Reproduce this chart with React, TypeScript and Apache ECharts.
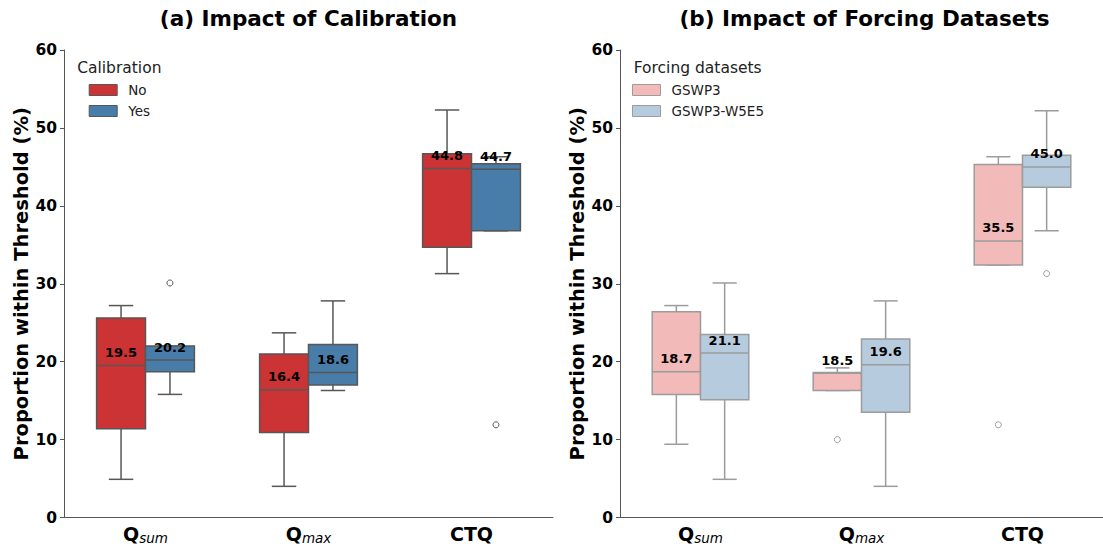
import React, { useEffect, useRef } from 'react';
import * as echarts from 'echarts';

const FONT = "'DejaVu Sans', 'Liberation Sans', sans-serif";

// categories (main letters + subscript)
const catMain = ['Q', 'Q', 'CTQ'];
const catSub = ['sum', 'max', ''];
const categories = ['Qsum', 'Qmax', 'CTQ'];

// y axis ticks
const yMin = 0;
const yMax = 60;
const yStep = 10;

// [whisker low, Q1, median, Q3, whisker high] per category
const calibNo = [
  [4.9, 11.4, 19.5, 25.6, 27.2],
  [4.0, 10.9, 16.4, 21.0, 23.7],
  [31.3, 34.7, 44.8, 46.7, 52.3],
];
const calibYes = [
  [15.8, 18.7, 20.2, 22.0, 22.0],
  [16.3, 17.0, 18.6, 22.2, 27.8],
  [36.8, 36.8, 44.7, 45.4, 46.3],
];
const calibNoOutliers: number[][] = [];
const calibYesOutliers = [
  [0, 30.1],
  [2, 11.9],
];

const gswp3 = [
  [9.4, 15.8, 18.7, 26.4, 27.2],
  [16.3, 16.3, 18.5, 18.6, 19.2],
  [32.4, 32.4, 35.5, 45.3, 46.3],
];
const w5e5 = [
  [4.9, 15.1, 21.1, 23.5, 30.1],
  [4.0, 13.5, 19.6, 22.9, 27.8],
  [36.8, 42.4, 45.0, 46.5, 52.2],
];
const gswp3Outliers = [
  [1, 10.0],
  [2, 11.9],
];
const w5e5Outliers = [[2, 31.3]];

const BOX_FRAC = 0.3;

function boxSeries(name: string, rows: number[][], fill: string, stroke: string, panel: number, side: number) {
  return {
    type: 'custom',
    name,
    xAxisIndex: panel,
    yAxisIndex: panel,
    itemStyle: { color: fill },
    data: rows.map((r, i) => [i, ...r]),
    encode: { x: 0, y: [1, 2, 3, 4, 5] },
    silent: true,
    z: 2,
    renderItem: (params: any, api: any) => {
      const ci = api.value(0);
      const band = api.size([1, 0])[0];
      const bw = band * BOX_FRAC;
      const cx = api.coord([ci, 0])[0] + (side * bw) / 2;
      const y = (k: number) => api.coord([ci, api.value(k)])[1];
      const yLow = y(1);
      const yQ1 = y(2);
      const yMed = y(3);
      const yQ3 = y(4);
      const yHigh = y(5);
      const cap = bw / 2;
      const ls = { stroke, lineWidth: 1.5, fill: 'none' };
      return {
        type: 'group',
        children: [
          { type: 'line', shape: { x1: cx, y1: yHigh, x2: cx, y2: yQ3 }, style: ls },
          { type: 'line', shape: { x1: cx, y1: yQ1, x2: cx, y2: yLow }, style: ls },
          { type: 'line', shape: { x1: cx - cap / 2, y1: yHigh, x2: cx + cap / 2, y2: yHigh }, style: ls },
          { type: 'line', shape: { x1: cx - cap / 2, y1: yLow, x2: cx + cap / 2, y2: yLow }, style: ls },
          {
            type: 'rect',
            shape: { x: cx - bw / 2, y: yQ3, width: bw, height: yQ1 - yQ3 },
            style: { fill, stroke, lineWidth: 1.5 },
          },
          { type: 'line', shape: { x1: cx - bw / 2, y1: yMed, x2: cx + bw / 2, y2: yMed }, style: ls },
          {
            type: 'text',
            x: cx,
            y: yMed - 13,
            z2: 10,
            style: {
              text: Number(api.value(3)).toFixed(1),
              fill: '#000',
              fontSize: 13,
              fontWeight: 'bold',
              fontFamily: FONT,
              align: 'center',
              verticalAlign: 'middle',
            },
          },
        ],
      };
    },
  };
}

function outlierSeries(name: string, pts: number[][], stroke: string, panel: number, side: number) {
  return {
    type: 'custom',
    name,
    xAxisIndex: panel,
    yAxisIndex: panel,
    data: pts,
    encode: { x: 0, y: 1 },
    silent: true,
    z: 3,
    renderItem: (params: any, api: any) => {
      const band = api.size([1, 0])[0];
      const bw = band * BOX_FRAC;
      const pt = api.coord([api.value(0), api.value(1)]);
      return {
        type: 'circle',
        shape: { cx: pt[0] + (side * bw) / 2, cy: pt[1], r: 3 },
        style: { fill: '#fff', stroke, lineWidth: 1 },
      };
    },
  };
}

const AXIS_COLOR = '#555';

function xAxis(idx: number) {
  return {
    type: 'category',
    gridIndex: idx,
    data: categories,
    axisLine: { lineStyle: { color: AXIS_COLOR, width: 1 } },
    axisTick: { alignWithLabel: true, length: 4, lineStyle: { color: AXIS_COLOR } },
    axisLabel: {
      margin: 5,
      formatter: (v: string, i: number) =>
        catSub[i] ? `{q|${catMain[i]}}{s|${catSub[i]}}` : `{q|${catMain[i]}}`,
      rich: {
        q: { fontSize: 19, fontWeight: 'bold', fontFamily: FONT, color: '#000', lineHeight: 22 },
        s: {
          fontSize: 13.5,
          fontStyle: 'italic',
          fontFamily: FONT,
          color: '#000',
          lineHeight: 14,
          padding: [9, 0, 0, 0],
        },
      },
    },
    splitLine: { show: false },
  };
}

function yAxis(idx: number) {
  return {
    type: 'value',
    gridIndex: idx,
    min: yMin,
    max: yMax,
    interval: yStep,
    name: 'Proportion within Threshold (%)',
    nameLocation: 'middle',
    nameGap: 31,
    nameTextStyle: { fontSize: 19.5, fontWeight: 'bold', fontFamily: FONT, color: '#000' },
    axisLine: { show: true, lineStyle: { color: AXIS_COLOR, width: 1 } },
    axisTick: { show: true, length: 4, lineStyle: { color: AXIS_COLOR } },
    axisLabel: { fontSize: 15.5, fontWeight: 'bold', fontFamily: FONT, color: '#000', margin: 7 },
    splitLine: { show: false },
  };
}

const RED = '#CB3335';
const BLUE = '#477DA8';
const DARK_LINE = '#575757';
const PINK = '#F2BAB8';
const LBLUE = '#B6CBDE';
const LIGHT_LINE = '#9c9c9c';

export default function App() {
  const ref = useRef<HTMLDivElement>(null);
  useEffect(() => {
    if (!ref.current) return;
    const chart = echarts.init(ref.current, undefined, { renderer: 'svg' });
    const legendText = { fontSize: 13.5, fontFamily: FONT, color: '#222', padding: [0, 0, 0, 6] };
    const titleStyle = { fontSize: 21.5, fontWeight: 'bold', fontFamily: FONT, fill: '#000' };
    chart.setOption({
      animation: false,
      backgroundColor: '#fff',
      grid: [
        { left: 64, top: 50, width: 489, height: 467.5 },
        { left: 620, top: 50, width: 489, height: 467.5 },
      ],
      xAxis: [xAxis(0), xAxis(1)],
      yAxis: [yAxis(0), yAxis(1)],
      legend: [
        {
          orient: 'vertical',
          left: 88.7,
          top: 83,
          padding: 0,
          itemWidth: 28,
          itemHeight: 11,
          itemGap: 7,
          selectedMode: false,
          textStyle: legendText,
          data: [
            { name: 'No', icon: 'rect', itemStyle: { color: RED, borderColor: DARK_LINE, borderWidth: 1 } },
            { name: 'Yes', icon: 'rect', itemStyle: { color: BLUE, borderColor: DARK_LINE, borderWidth: 1 } },
          ],
        },
        {
          orient: 'vertical',
          left: 632,
          top: 83,
          padding: 0,
          itemWidth: 28,
          itemHeight: 11,
          itemGap: 7,
          selectedMode: false,
          textStyle: legendText,
          data: [
            { name: 'GSWP3', icon: 'rect', itemStyle: { color: PINK, borderColor: LIGHT_LINE, borderWidth: 1 } },
            { name: 'GSWP3-W5E5', icon: 'rect', itemStyle: { color: LBLUE, borderColor: LIGHT_LINE, borderWidth: 1 } },
          ],
        },
      ],
      graphic: [
        { type: 'text', x: 308.5, y: 18, style: { text: '(a) Impact of Calibration', align: 'center', verticalAlign: 'middle', ...titleStyle } },
        { type: 'text', x: 864.5, y: 18, style: { text: '(b) Impact of Forcing Datasets', align: 'center', verticalAlign: 'middle', ...titleStyle } },
        { type: 'text', x: 119.3, y: 68.3, style: { text: 'Calibration', align: 'center', verticalAlign: 'middle', fontSize: 15.5, fontFamily: FONT, fill: '#222' } },
        { type: 'text', x: 697.7, y: 68.3, style: { text: 'Forcing datasets', align: 'center', verticalAlign: 'middle', fontSize: 15.5, fontFamily: FONT, fill: '#222' } },
      ],
      series: [
        boxSeries('No', calibNo, RED, DARK_LINE, 0, -1),
        boxSeries('Yes', calibYes, BLUE, DARK_LINE, 0, 1),
        outlierSeries('No', calibNoOutliers, DARK_LINE, 0, -1),
        outlierSeries('Yes', calibYesOutliers, DARK_LINE, 0, 1),
        boxSeries('GSWP3', gswp3, PINK, LIGHT_LINE, 1, -1),
        boxSeries('GSWP3-W5E5', w5e5, LBLUE, LIGHT_LINE, 1, 1),
        outlierSeries('GSWP3', gswp3Outliers, LIGHT_LINE, 1, -1),
        outlierSeries('GSWP3-W5E5', w5e5Outliers, LIGHT_LINE, 1, 1),
      ],
    });
    return () => chart.dispose();
  }, []);
  return (
    <div
      ref={ref}
      style={{ position: 'absolute', left: 0, top: 0, width: 1103, height: 547, background: '#fff' }}
    />
  );
}
